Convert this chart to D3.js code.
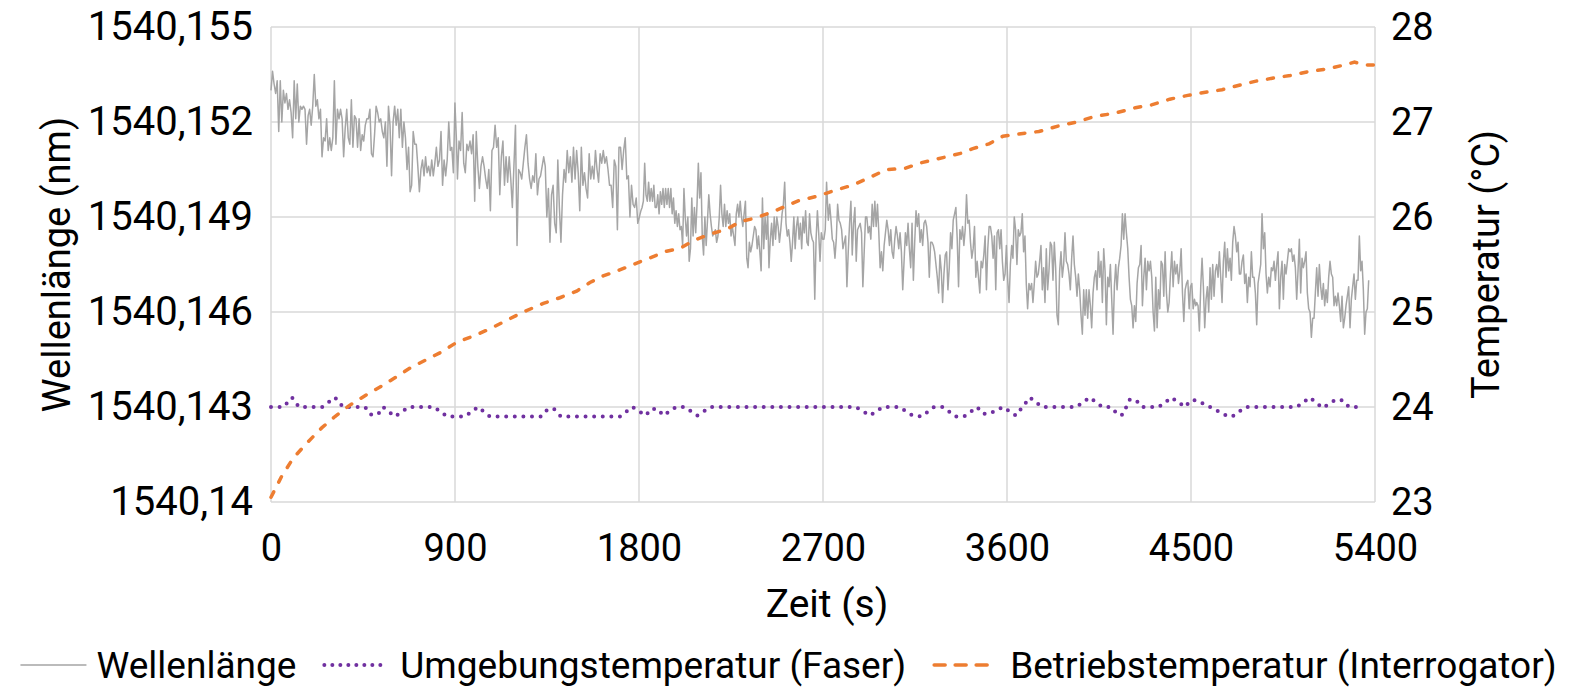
<!DOCTYPE html>
<html lang="de">
<head>
<meta charset="UTF-8">
<title>Wellenlänge und Temperatur</title>
<script src="https://d3js.org/d3.v7.min.js"></script>
<style>
  body { margin: 0; background: #fff; }
  svg text { font-family: Roboto, "Noto Sans", sans-serif; fill: #000; }
</style>
</head>
<body>
<svg width="1575" height="687"></svg>
<script>
// x axis: time in s
const timeTicks = [0, 900, 1800, 2700, 3600, 4500, 5400];
// left axis: wavelength in nm
const wlTicks = [1540.14, 1540.143, 1540.146, 1540.149, 1540.152, 1540.155];
const wlTickLabels = ["1540,14", "1540,143", "1540,146", "1540,149", "1540,152", "1540,155"];
// right axis: temperature in °C
const tempTicks = [23, 24, 25, 26, 27, 28];

// Wellenlänge, stored as offset in pm above 1540,140 nm, read in six blocks
const wlBase = 1540.14;
const wlBlockStart = [0, 912, 1815, 2726, 3629, 4528];
const wlBlockStep = [7.56, 7.67, 6.40, 6.50, 6.53, 6.52];
const wlPm1 = [13.0,13.6,13.2,12.9,13.3,11.7,13.3,12.0,13.0,12.6,12.9,12.4,12.7,12.3,11.5,13.3,12.1,13.2,12.0,12.5,
  12.4,12.5,12.4,11.3,12.2,12.4,11.9,12.5,13.5,12.5,12.7,12.1,12.4,10.9,11.5,11.4,12.1,11.1,11.5,11.1,
  11.5,13.3,11.3,12.4,12.1,12.4,12.1,10.9,11.8,12.4,11.5,11.3,12.7,11.2,12.2,12.1,11.2,12.1,11.1,11.6,
  11.4,11.9,12.1,12.1,12.4,11.0,10.9,11.6,12.5,12.3,12.0,12.1,11.7,11.5,12.0,10.6,12.5,11.9,10.3,12.0,
  12.5,11.9,12.4,11.5,12.4,11.2,12.0,11.5,10.5,11.2,9.8,10.0,11.7,11.3,11.3,10.6,9.8,10.5,10.8,10.3,
  10.9,10.4,10.6,10.3,10.8,10.3,10.7,11.2,10.6,10.8,11.7,10.0,10.8,10.3,10.8,12.0,11.1,11.2,10.4,12.6,11.4];
const wlPm2 = [10.2,11.4,11.1,12.3,10.7,10.4,11.3,11.1,11.4,11.0,11.6,9.5,11.7,10.6,9.9,10.6,10.9,10.6,10.2,9.9,
  10.5,9.2,11.1,11.2,11.9,11.2,11.5,9.7,10.9,11.4,10.0,10.9,10.1,10.9,10.2,9.3,10.6,11.9,8.1,10.5,
  10.4,10.2,10.7,11.2,11.6,10.7,10.2,9.9,10.3,10.1,11.0,9.7,10.2,10.3,10.6,10.9,10.6,9.0,9.9,8.2,
  9.7,10.0,8.8,8.5,10.8,9.3,8.2,9.7,10.5,10.1,11.1,10.4,10.9,10.1,11.2,10.2,11.1,10.4,9.2,11.2,
  10.0,10.4,9.9,9.6,11.0,10.2,10.6,10.2,11.1,10.5,10.1,11.0,10.7,11.1,10.7,10.9,10.5,10.0,10.0,9.3,
  10.8,10.6,8.6,11.2,11.2,10.5,11.1,11.5,10.2,10.3,9.0,10.0,9.4,9.3,9.6,8.8,9.0,9.2];
const wlPm3 = [9.3,9.5,10.7,9.7,9.5,10.1,9.5,9.9,9.5,10.0,9.3,9.3,9.7,9.1,9.8,9.4,9.9,9.3,9.9,9.4,
  9.9,9.3,9.9,9.1,9.6,8.8,9.2,8.7,9.1,8.6,8.7,8.1,9.9,9.0,8.4,9.0,7.6,8.0,9.6,8.4,
  9.3,8.5,9.4,10.7,9.6,10.4,8.4,7.8,9.0,8.1,8.9,9.7,9.1,8.7,8.4,8.5,8.6,8.2,8.4,9.0,
  10.0,9.1,8.7,9.4,8.7,9.2,8.8,9.1,8.4,8.7,8.4,8.1,9.1,9.4,9.0,9.5,9.0,8.7,9.1,9.5,
  7.7,7.4,8.2,7.9,8.1,8.4,8.7,8.6,8.0,8.4,7.9,7.3,9.6,8.0,9.0,8.3,9.1,7.4,8.3,8.8,
  8.1,9.0,8.3,9.0,8.7,8.2,8.6,9.1,9.4,10.1,8.8,8.4,8.6,8.2,7.6,8.2,9.0,8.0,8.7,9.0,
  8.3,8.8,8.0,9.0,8.5,9.2,8.2,8.1,9.1,8.5,8.3,8.2,6.4,8.3,9.2,8.5,7.6,8.5,8.3,8.3,8.6,10.1];
const wlPm4 = [8.9,9.4,8.9,8.3,8.2,7.7,8.3,9.4,8.9,8.8,8.6,8.0,8.2,8.4,6.8,7.9,8.8,9.5,7.8,
  8.8,9.3,7.6,8.6,8.7,8.8,8.5,6.8,7.9,9.0,9.0,8.5,8.7,8.3,9.4,8.7,9.5,8.7,9.4,8.5,
  7.4,7.9,7.3,8.1,8.5,8.9,8.6,8.1,8.6,7.9,7.7,8.3,8.7,8.4,8.0,8.5,7.9,6.7,7.6,8.5,
  8.1,8.8,8.0,7.4,8.8,7.0,8.2,9.2,8.7,9.1,8.2,8.6,8.1,8.8,8.9,8.7,8.2,7.1,8.2,8.2,
  8.1,7.9,7.5,7.1,6.6,7.8,7.3,6.3,7.2,7.8,7.9,6.7,7.4,8.5,8.0,8.9,9.1,9.3,8.3,6.8,
  8.6,8.3,8.7,8.1,8.6,9.7,8.8,8.9,8.2,7.7,8.0,8.7,7.1,7.6,7.1,6.6,7.6,7.4,7.8,8.4,
  6.7,8.0,8.7,8.7,8.4,7.7,8.4,6.7,8.5,8.6,8.0,8.6,7.6,7.0,7.2,8.1,7.0,6.3,7.5,8.1];
const wlPm5 = [7.7,9.0,8.6,7.5,8.6,8.4,8.5,9.1,7.9,8.4,6.9,6.1,6.9,6.7,6.9,6.3,6.9,7.6,7.1,7.2,
  7.6,8.1,6.7,7.4,6.3,8.0,6.7,7.3,8.2,8.1,7.0,8.2,7.4,5.9,5.6,7.3,7.9,7.1,7.5,8.5,
  7.6,7.5,7.2,6.7,7.7,8.4,7.5,7.1,6.5,7.2,6.7,5.9,5.3,6.7,5.9,6.7,5.8,6.7,6.2,5.5,
  6.6,7.1,7.3,6.7,7.9,7.1,7.6,6.3,8.0,7.3,5.6,7.1,6.8,7.5,6.4,5.3,6.8,7.5,6.7,7.4,
  7.7,8.1,9.1,8.3,9.1,8.5,8.0,7.1,6.4,6.2,5.5,6.2,5.7,6.9,7.4,7.5,8.1,6.2,7.1,7.7,
  6.7,7.6,7.3,7.6,7.1,6.0,5.4,7.1,5.5,6.7,6.1,7.6,7.5,6.5,7.9,6.6,6.0,6.3,7.2,7.9,
  6.8,7.6,7.2,7.5,6.9,7.3,8.0,6.6,5.7,6.7,6.9,7.0,6.1,6.8,6.9,6.1,6.4,6.2];
const wlPm6 = [6.3,6.2,5.4,6.8,7.7,6.8,5.5,6.4,6.8,6.0,7.4,6.4,7.5,6.5,7.3,7.5,7.1,7.9,7.1,6.3,
  7.6,8.2,7.1,8.0,7.3,7.7,7.0,8.2,8.7,8.4,7.9,8.2,7.2,7.2,7.6,7.8,6.9,7.2,6.3,7.1,
  6.8,7.9,7.1,7.1,6.6,5.6,6.9,7.2,7.5,9.1,8.0,8.5,7.2,6.6,7.1,6.8,7.4,7.3,7.6,7.0,
  7.5,7.9,6.1,7.1,7.6,6.4,7.5,7.2,7.6,8.0,7.9,8.0,7.6,7.8,7.4,6.4,7.3,8.3,6.6,7.7,
  7.4,7.6,7.9,6.6,6.1,6.0,5.2,5.8,5.8,6.6,7.4,6.5,7.5,6.8,6.4,6.9,6.2,6.7,6.3,7.1,
  7.6,7.2,7.1,6.2,6.5,6.2,6.6,6.2,5.7,6.5,5.5,5.8,6.2,6.5,6.8,5.5,6.4,6.8,7.2,6.4,
  7.0,7.0,8.4,7.3,7.6,6.7,5.3,6.0,6.1,7.0];

// Umgebungstemperatur (Faser), °C
const ambTime = [0,60,103,137,250,313,352,460,489,523,548,606,675,797,861,949,1012,1071,1320,1355,1384,1418,
  1707,1768,1833,1860,1891,1919,1981,2023,2085,2150,2861,2930,2993,3073,3139,3182,3243,3286,3350,3389,
  3454,3482,3514,3580,3643,3712,3771,3940,4005,4067,4106,4148,4166,4201,4232,4260,4342,4405,4471,4498,
  4529,4593,4681,4702,4767,5018,5081,5144,5210,5242,5273,5312];
const ambTemp = [24.0,24.0,24.1,24.0,24.0,24.1,24.0,24.0,23.92,23.92,24.0,23.9,24.0,24.0,23.9,23.9,24.0,23.9,23.9,23.98,23.98,23.9,
  23.9,24.0,23.91,23.98,23.98,23.91,24.0,24.0,23.91,24.0,24.0,23.91,24.0,24.0,23.91,23.9,24.0,24.0,23.9,23.9,
  24.0,23.93,23.93,24.0,23.91,24.1,24.0,24.0,24.1,24.0,24.0,23.91,23.92,24.08,24.07,24.0,24.0,24.1,24.0,24.07,
  24.07,24.0,23.9,23.9,24.0,24.0,24.1,23.99,24.08,24.07,24.0,24.0];

// Betriebstemperatur (Interrogator), °C
const opTime = [0,52,108,175,248,313,386,468,533,615,680,762,835,908,1006,1087,1169,1234,1332,1413,1495,1560,
  1625,1691,1772,1854,1935,2001,2066,2147,2229,2294,2372,2460,2578,2675,2744,2851,2932,3010,3099,3178,
  3296,3374,3433,3512,3580,3678,3756,3854,3942,4030,4121,4228,4307,4396,4484,4563,4652,4740,4818,4897,
  4985,5073,5171,5249,5300,5350,5400];
const opTemp = [23.05,23.27,23.46,23.62,23.78,23.9,24.02,24.13,24.21,24.32,24.41,24.5,24.58,24.68,24.76,24.84,24.93,25.0,25.09,25.15,25.22,25.31,
  25.38,25.43,25.5,25.57,25.64,25.67,25.75,25.82,25.87,25.95,25.99,26.06,26.17,26.22,26.27,26.34,26.42,26.5,26.51,26.57,
  26.63,26.67,26.72,26.77,26.85,26.88,26.9,26.96,27.0,27.06,27.09,27.15,27.18,27.24,27.28,27.31,27.34,27.39,27.43,27.46,
  27.49,27.53,27.56,27.6,27.63,27.6,27.6];

const svg = d3.select("svg");
const plotL = 271, plotR = 1375, plotT = 27, plotB = 502;

const x = d3.scaleLinear().domain([0, 5400]).range([plotL, plotR]);
const yWl = d3.scaleLinear().domain([1540.14, 1540.155]).range([plotB, plotT]);
const yT = d3.scaleLinear().domain([23, 28]).range([plotB, plotT]);

// gridlines
const grid = svg.append("g").attr("stroke", "#d9d9d9").attr("stroke-width", 1.5);
grid.selectAll("line.h").data(wlTicks).join("line")
  .attr("x1", plotL).attr("x2", plotR)
  .attr("y1", d => yWl(d)).attr("y2", d => yWl(d));
grid.selectAll("line.v").data(timeTicks).join("line")
  .attr("y1", plotT).attr("y2", plotB)
  .attr("x1", d => x(d)).attr("x2", d => x(d));

// wavelength points
const wlBlocks = [wlPm1, wlPm2, wlPm3, wlPm4, wlPm5, wlPm6];
const wlData = [];
wlBlocks.forEach((arr, i) => {
  arr.forEach((pm, j) => wlData.push({ t: wlBlockStart[i] + j * wlBlockStep[i], v: wlBase + pm / 1000 }));
});

svg.append("path").datum(wlData)
  .attr("fill", "none").attr("stroke", "#a5a5a5").attr("stroke-width", 1.5)
  .attr("stroke-linejoin", "round")
  .attr("d", d3.line().x(d => x(d.t)).y(d => yWl(d.v)));

svg.append("path").datum(d3.zip(ambTime, ambTemp))
  .attr("fill", "none").attr("stroke", "#7030a0").attr("stroke-width", 4)
  .attr("stroke-linecap", "round").attr("stroke-dasharray", "0,8.6")
  .attr("d", d3.line().x(d => x(d[0])).y(d => yT(d[1])));

svg.append("path").datum(d3.zip(opTime, opTemp))
  .attr("fill", "none").attr("stroke", "#ed7d31").attr("stroke-width", 3.5)
  .attr("stroke-linecap", "round").attr("stroke-dasharray", "6,11")
  .attr("d", d3.line().x(d => x(d[0])).y(d => yT(d[1])));

// axes (labels only, Excel style)
const fs = 37;
const xAxis = d3.axisBottom(x).tickValues(timeTicks).tickSize(0).tickPadding(0)
  .tickFormat(d3.format("d"));
svg.append("g").attr("transform", `translate(0,${plotB + 32})`).call(xAxis)
  .call(g => g.select(".domain").remove())
  .selectAll("text").attr("font-size", 38).attr("dy", "0.71em").attr("font-family", null);

const yAxisL = d3.axisLeft(yWl).tickValues(wlTicks).tickSize(0).tickPadding(0)
  .tickFormat((d, i) => wlTickLabels[i]);
svg.append("g").attr("transform", `translate(${plotL - 18},0)`).call(yAxisL)
  .call(g => g.select(".domain").remove())
  .selectAll("text").attr("font-size", 40).attr("font-family", null);

const yAxisR = d3.axisRight(yT).tickValues(tempTicks).tickSize(0).tickPadding(0)
  .tickFormat(d3.format("d"));
svg.append("g").attr("transform", `translate(${plotR + 16},0)`).call(yAxisR)
  .call(g => g.select(".domain").remove())
  .selectAll("text").attr("font-size", 38).attr("font-family", null);

// axis titles
svg.append("text").attr("x", 827).attr("y", 617)
  .attr("text-anchor", "middle").attr("font-size", 39).text("Zeit (s)");
svg.append("text").attr("transform", `translate(70,${(plotT + plotB) / 2}) rotate(-90)`)
  .attr("text-anchor", "middle").attr("font-size", 38).text("Wellenlänge (nm)");
svg.append("text").attr("transform", `translate(1472,${(plotT + plotB) / 2}) rotate(-90)`)
  .attr("text-anchor", "middle").attr("dy", "0.71em").attr("font-size", 38).text("Temperatur (°C)");

// legend
const legendItems = [
  { name: "Wellenlänge", color: "#a5a5a5", width: 1.5, dash: null, cap: "butt", len: 68 },
  { name: "Umgebungstemperatur (Faser)", color: "#7030a0", width: 4, dash: "0,8", cap: "round", len: 66 },
  { name: "Betriebstemperatur (Interrogator)", color: "#ed7d31", width: 3.5, dash: "11,10", cap: "round", len: 58 }
];
const lg = svg.append("g");
let lx = 0;
legendItems.forEach(it => {
  const g = lg.append("g").attr("transform", `translate(${lx},0)`);
  g.append("line").attr("x1", 2).attr("x2", it.len).attr("y1", 0).attr("y2", 0)
    .attr("stroke", it.color).attr("stroke-width", it.width)
    .attr("stroke-dasharray", it.dash).attr("stroke-linecap", it.cap);
  const t = g.append("text").attr("x", 78).attr("y", 0).attr("dy", "0.35em")
    .attr("font-size", fs).text(it.name);
  lx += 78 + t.node().getComputedTextLength() + 26;
});
lx -= 26;
lg.attr("transform", `translate(${(1575 - lx) / 2},665)`);
</script>
</body>
</html>
